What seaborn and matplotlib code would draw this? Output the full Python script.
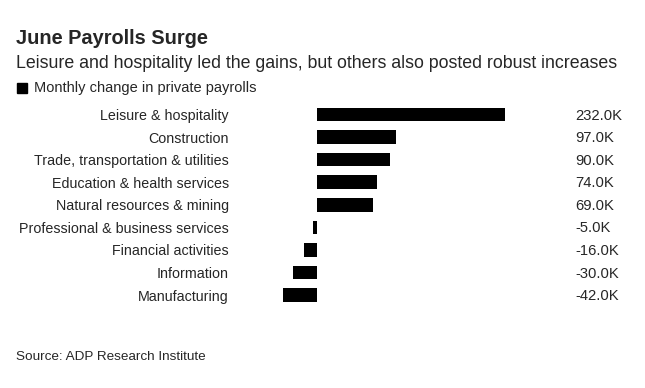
import pandas as pd
import matplotlib.pyplot as plt
import seaborn as sns
from matplotlib.patches import Rectangle
from matplotlib.transforms import blended_transform_factory

# sectors and their June change in private payrolls (thousands)
sectors = ["Leisure & hospitality", "Construction", "Trade, transportation & utilities",
           "Education & health services", "Natural resources & mining",
           "Professional & business services", "Financial activities",
           "Information", "Manufacturing"]
change = [232.0, 97.0, 90.0, 74.0, 69.0, -5.0, -16.0, -30.0, -42.0]

df = pd.DataFrame({"sector": sectors, "change": change})

sns.set_style("white")
plt.rcParams['font.family'] = ['Liberation Sans', 'DejaVu Sans']

fig = plt.figure(figsize=(6.45, 3.88), dpi=100)
ax = fig.add_axes([283 / 645, 1 - 306.3 / 388, 222 / 645, 203.1 / 388])

sns.barplot(data=df, x="change", y="sector", color="black", orient="h",
            width=0.6, edgecolor="none", saturation=1, ax=ax)

ax.set_xlim(-42, 232)
ax.set_xlabel("")
ax.set_ylabel("")
ax.set_xticks([])
ax.tick_params(axis="y", length=0, pad=39, labelsize=10.3)
for s in ax.spines.values():
    s.set_visible(False)

# value labels in a column on the right
trans = blended_transform_factory(fig.transFigure, ax.transData)
for i, v in enumerate(change):
    ax.text(575 / 645, i + 0.05, f"{v:.1f}K", transform=trans, va="center",
            ha="left", fontsize=10.6)

fig.text(16 / 645, 1 - 39 / 388, "June Payrolls Surge", fontsize=14.4,
         fontweight="bold", va="center")
fig.text(16 / 645, 1 - 63 / 388,
         "Leisure and hospitality led the gains, but others also posted robust increases",
         fontsize=12.8, va="center")
fig.patches.append(Rectangle((17 / 645, 1 - 93 / 388), 10 / 645, 10 / 388,
                             transform=fig.transFigure, color="black"))
fig.text(34 / 645, 1 - 88 / 388, "Monthly change in private payrolls",
         fontsize=10.5, va="center")
fig.text(16 / 645, 1 - 357 / 388, "Source: ADP Research Institute", fontsize=9.7,
         va="center")

fig.savefig("out.png", dpi=100)
